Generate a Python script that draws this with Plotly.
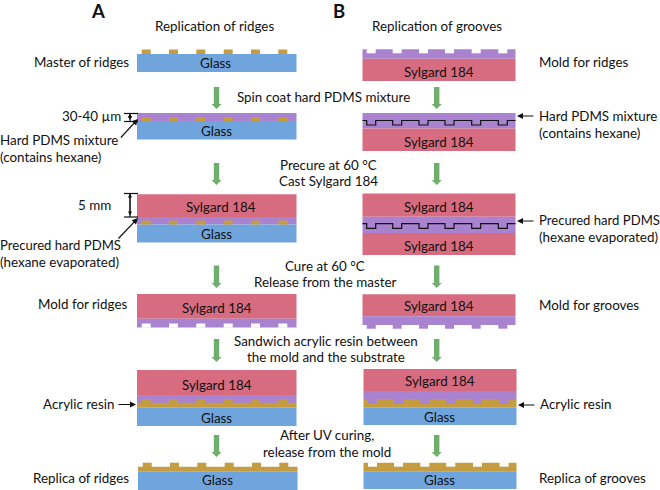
import plotly.graph_objects as go

W, H = 660, 490
FONT = "Lato"
TS = 13.4
TS_WIDE = 13.1
GLASS, SYL, PUR, GOLD, GREEN, WHITE = "#6fa5dc", "#d76c80", "#a983cf", "#c59c3f", "#6fae6d", "#ffffff"

A_X = (137, 296.5)
A6_X = (138, 297.5)
B_X = (362.5, 515.5)
B5_X = (363.5, 516.5)
A_FEATURES = [141.7, 169, 196.3, 223.7, 251, 278.3]
A6_FEATURES = [142.7, 170, 197.3, 224.7, 252, 279.3]
B_FEATURES = [366.7, 392.7, 419, 445, 471.7, 498.3]
B5_FEATURES = [368, 394, 420.3, 446.3, 473, 499.6]
FEATURE_W = 9

# (x-span, top, bottom, colour)
layers = [
    (A_X, 54, 72, GLASS),
    (A_X, 113, 121, PUR), (A_X, 121, 139.5, GLASS),
    (A_X, 194.3, 217, SYL), (A_X, 217, 224.5, PUR), (A_X, 224.5, 242.5, GLASS),
    (A_X, 294, 318.7, SYL), (A_X, 318.7, 327.5, PUR),
    (A_X, 370, 395, SYL), (A_X, 395, 403, PUR), (A_X, 402.7, 407.7, GOLD), (A_X, 407.7, 426, GLASS),
    (A6_X, 466.7, 471.7, GOLD), (A6_X, 471.7, 490, GLASS),
    (B_X, 49.3, 58.7, PUR), (B_X, 58.7, 81, SYL),
    (B_X, 113, 128.5, PUR), (B_X, 128.5, 151, SYL),
    (B_X, 193.5, 216.7, SYL), (B_X, 216.7, 233, PUR), (B_X, 233, 255, SYL),
    (B_X, 294.3, 316.3, SYL), (B_X, 316.3, 325, PUR),
    (B5_X, 369, 391, SYL), (B5_X, 391, 399, PUR), (B5_X, 399, 407.7, GOLD), (B5_X, 407.7, 425, GLASS),
    (B5_X, 462.7, 471.3, GOLD), (B5_X, 471.3, 489, GLASS),
]
# (feature starts, top, bottom, colour)
features = [
    (A_FEATURES, 49.5, 54, GOLD),
    (A_FEATURES, 117, 121, GOLD),
    (A_FEATURES, 220.5, 224.5, GOLD),
    (A_FEATURES, 323.5, 327.7, WHITE),
    (A_FEATURES, 399, 403, GOLD),
    (A6_FEATURES, 462.7, 467, GOLD),
    (B_FEATURES, 49, 53.3, WHITE),
    (B_FEATURES, 325, 328.7, PUR),
    (B5_FEATURES, 399, 403.5, PUR),
    (B5_FEATURES, 462.3, 466.7, WHITE),
]
# interface lines drawn inside the hard PDMS: (top y, dip y)
interfaces = [(120.5, 125), (223.7, 228.3)]

green_arrow_x = [216.5, 436.7]
green_arrow_y = [(87, 109), (163, 185), (265.5, 288), (339, 362), (435, 457)]

# (text, x, y, anchor, size, bold)
labels = [
    ("A", 98, 10.5, "center", 18.5, True), ("B", 339, 10.5, "center", 18.5, True),
    ("Replication of ridges", 214, 26, "center", TS, False),
    ("Replication of grooves", 437, 26, "center", TS, False),
    ("Master of ridges", 129, 62, "right", TS, False),
    ("Glass", 215, 63, "center", TS, False),
    ("Sylgard 184", 439, 72, "center", TS, False),
    ("Mold for ridges", 539, 62, "left", TS, False),
    ("Spin coat hard PDMS mixture", 323, 97, "center", TS, False),
    ("30-40 µm", 121, 116, "right", TS, False),
    ("Hard PDMS mixture", 0, 140, "left", TS, False),
    ("(contains hexane)", 0, 157, "left", TS, False),
    ("Glass", 216, 131, "center", TS, False),
    ("Sylgard 184", 439, 142, "center", TS, False),
    ("Hard PDMS mixture", 539, 116, "left", TS, False),
    ("(contains hexane)", 539, 133, "left", TS, False),
    ("Precure at 60 °C", 328, 165, "center", TS, False),
    ("Cast Sylgard 184", 328, 181, "center", TS, False),
    ("5 mm", 94, 205, "center", TS, False),
    ("Sylgard 184", 221, 207, "center", TS, False),
    ("Glass", 216, 234, "center", TS, False),
    ("Precured hard PDMS", 0, 245, "left", TS_WIDE, False),
    ("(hexane evaporated)", 0, 262, "left", TS, False),
    ("Sylgard 184", 439, 207, "center", TS, False),
    ("Sylgard 184", 439, 246, "center", TS, False),
    ("Precured hard PDMS", 539, 220, "left", TS_WIDE, False),
    ("(hexane evaporated)", 539, 237, "left", TS, False),
    ("Cure at 60 °C", 325, 266, "center", TS, False),
    ("Release from the master", 325, 282, "center", TS, False),
    ("Mold for ridges", 128, 304, "right", TS, False),
    ("Sylgard 184", 217, 308, "center", TS, False),
    ("Sylgard 184", 439, 306, "center", TS, False),
    ("Mold for grooves", 539, 305, "left", TS, False),
    ("Sandwich acrylic resin between", 326, 341, "center", TS, False),
    ("the mold and the substrate", 326, 357, "center", TS, False),
    ("Sylgard 184", 217, 385, "center", TS, False),
    ("Glass", 216, 418, "center", TS, False),
    ("Acrylic resin", 114, 404, "right", TS, False),
    ("Sylgard 184", 440, 381, "center", TS, False),
    ("Glass", 439, 417, "center", TS, False),
    ("Acrylic resin", 540, 404, "left", TS, False),
    ("After UV curing,", 327, 435, "center", TS, False),
    ("release from the mold", 327, 452, "center", TS, False),
    ("Glass", 217, 480, "center", TS, False),
    ("Glass", 439, 480, "center", TS, False),
    ("Replica of ridges", 129, 478, "right", TS, False),
    ("Replica of grooves", 539, 478, "left", TS, False),
]
# black pointers: (tail x, tail y, tip x, tip y)
pointers = [
    (119.5, 139, 138, 119), (117, 240, 138, 218), (117, 404.5, 136, 404.5),
    (535, 116, 517, 116), (535, 221, 517, 221), (536, 405, 518, 405),
]
# dimension brackets: (x0, x1, top, bottom, centre x)
brackets = [(124, 138, 113.5, 121.5, 130), (124, 138, 193.5, 217, 130)]

fig = go.Figure()


def poly(xs, ys, color):
    fig.add_trace(go.Scatter(x=xs, y=ys, mode="lines", fill="toself", fillcolor=color,
                             line=dict(width=0, color=color), hoverinfo="skip", showlegend=False))


def rect(x0, x1, y0, y1, color):
    poly([x0, x1, x1, x0, x0], [y0, y0, y1, y1, y0], color)


def stroke(xs, ys, width=1.2):
    fig.add_trace(go.Scatter(x=xs, y=ys, mode="lines", line=dict(width=width, color="#111111"),
                             hoverinfo="skip", showlegend=False))


for span, top, bottom, color in layers:
    rect(span[0], span[1], top, bottom, color)
for starts, top, bottom, color in features:
    for s in starts:
        rect(s, s + FEATURE_W, top, bottom, color)

for flat, dip in interfaces:
    xs, ys = [B_X[0]], [flat]
    for s in B_FEATURES:
        xs += [s, s, s + FEATURE_W, s + FEATURE_W]
        ys += [flat, dip, dip, flat]
    xs.append(B_X[1])
    ys.append(flat)
    stroke(xs, ys)

for cx in green_arrow_x:
    for top, tip in green_arrow_y:
        neck = tip - 5
        poly([cx - 2.7, cx + 2.7, cx + 2.7, cx + 5, cx, cx - 5, cx - 2.7, cx - 2.7],
             [top, top, neck, neck, tip, neck, neck, top], GREEN)

for x0, x1, top, bottom, cx in brackets:
    stroke([x0, x1], [top, top])
    stroke([x0, x1], [bottom, bottom])
    stroke([cx, cx], [top, bottom])

annotations = []
for text, x, y, anchor, size, bold in labels:
    annotations.append(dict(x=x, y=y, xref="x", yref="y", text=f"<b>{text}</b>" if bold else text,
                            showarrow=False, xanchor=anchor, yanchor="middle", borderpad=0, borderwidth=0,
                            font=dict(family=FONT, size=size, color="#111111")))
for x0, y0, x1, y1 in pointers:
    annotations.append(dict(x=x1, y=y1, ax=x0, ay=y0, xref="x", yref="y", axref="x", ayref="y",
                            text="", showarrow=True, arrowhead=2, arrowsize=1, arrowwidth=1.2,
                            arrowcolor="#111111", standoff=0))
for x0, x1, top, bottom, cx in brackets:
    annotations.append(dict(x=cx, y=top, ax=cx, ay=bottom, xref="x", yref="y", axref="x", ayref="y",
                            text="", showarrow=True, arrowhead=2, arrowside="end+start", arrowsize=0.8,
                            arrowwidth=1, arrowcolor="#111111", standoff=0))

fig.update_layout(
    width=W, height=H, margin=dict(l=0, r=0, t=0, b=0), showlegend=False,
    paper_bgcolor="white", plot_bgcolor="white", annotations=annotations,
    xaxis=dict(range=[0, W], visible=False, fixedrange=True),
    yaxis=dict(range=[H, 0], visible=False, fixedrange=True),
)
fig.write_html("out.html", config={"displayModeBar": False},
               post_script="document.body.style.margin='0';document.body.style.overflow='hidden';")
